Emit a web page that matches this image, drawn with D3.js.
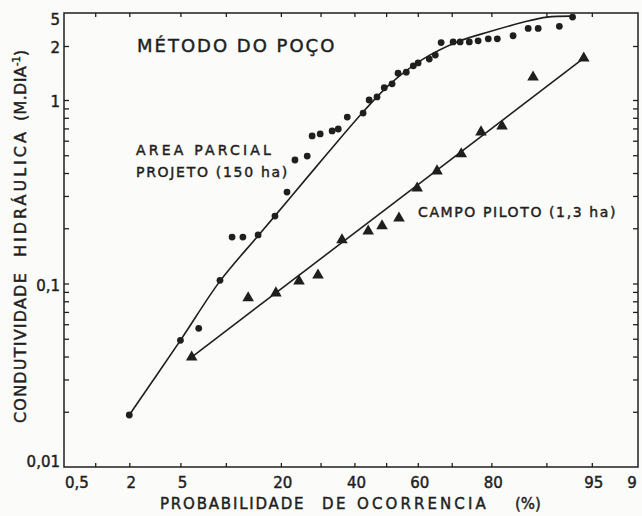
<!DOCTYPE html>
<html><head><meta charset="utf-8">
<script src="https://cdn.jsdelivr.net/npm/d3@7"></script>
<style>html,body{margin:0;padding:0;background:#fbfbf9;}svg{display:block;}</style>
</head><body><svg id="c" width="642" height="516"></svg>
<script>
// ---- data ----
const areaP = [2.0, 5.0, 6.7, 9.2, 10.9, 12.6, 15.3, 18.7, 21.4, 23.3, 26.4, 27.7, 29.9, 33.3, 35.1, 37.8, 42.7, 44.6, 47.1, 49.4, 51.9, 53.8, 56.4, 58.6, 60.1, 63.5, 65.3, 67.0, 70.4, 72.3, 74.7, 76.9, 79.3, 81.3, 84.5, 87.2, 88.8, 91.7, 93.2];
const areaK = [0.0192, 0.049, 0.057, 0.104, 0.179, 0.179, 0.184, 0.233, 0.315, 0.471, 0.495, 0.637, 0.653, 0.678, 0.695, 0.807, 0.849, 1.0, 1.04, 1.17, 1.23, 1.41, 1.43, 1.55, 1.61, 1.69, 1.78, 2.2, 2.24, 2.24, 2.24, 2.31, 2.44, 2.44, 2.66, 3.26, 3.26, 3.45, 4.46];
const pilotoP = [6.0, 13.5, 18.9, 24.3, 29.3, 36.2, 44.3, 48.7, 54.1, 59.8, 65.8, 72.6, 77.6, 82.3, 88.0, 94.3];
const pilotoK = [0.0397, 0.0834, 0.0887, 0.103, 0.111, 0.173, 0.193, 0.206, 0.227, 0.331, 0.410, 0.508, 0.669, 0.721, 1.34, 1.71];
const areaFitP = [2.0, 5.0, 9.2, 15.3, 22.1, 31.8, 42.7, 51.3, 61.6, 71.5, 79.7, 86.3, 90.1, 93.2];
const areaFitK = [0.0192, 0.049, 0.103, 0.182, 0.292, 0.508, 0.861, 1.23, 1.69, 2.24, 2.99, 3.86, 4.46, 4.59];
const pilotoFitP = [6.0, 94.3];
const pilotoFitK = [0.0397, 1.71];
const xTicks = [1, 2, 5, 10, 20, 30, 40, 50, 60, 70, 80, 90, 95];
const xLabelVals = [0.5, 2, 5, 20, 40, 60, 80, 95, 99];
const xLabels = ["0,5", "2", "5", "20", "40", "60", "80", "95", "9"];
const yTicks = [0.02,0.03,0.04,0.05,0.06,0.07,0.08,0.09,0.1,0.2,0.3,0.4,0.5,0.6,0.7,0.8,0.9,1,2];
const yLabelVals = [0.01, 0.1, 1, 2, 5];
const yLabels = ["0,01", "0,1", "1", "2", "5"];

// ---- probability transform (inverse normal CDF) ----
function probit(p){
 const a=[-3.969683028665376e+01,2.209460984245205e+02,-2.759285104469687e+02,1.383577518672690e+02,-3.066479806614716e+01,2.506628277459239e+00];
 const b=[-5.447609879822406e+01,1.615858368580409e+02,-1.556989798598866e+02,6.680131188771972e+01,-1.328068155288572e+01];
 const c=[-7.784894002430293e-03,-3.223964580411365e-01,-2.400758277161838e+00,-2.549732539343734e+00,4.374664141464968e+00,2.938163982698783e+00];
 const d=[7.784695709041462e-03,3.224671290700398e-01,2.445134137142996e+00,3.754408661907416e+00];
 const pl=0.02425, ph=1-pl; let q,r;
 if(p<pl){q=Math.sqrt(-2*Math.log(p));return (((((c[0]*q+c[1])*q+c[2])*q+c[3])*q+c[4])*q+c[5])/((((d[0]*q+d[1])*q+d[2])*q+d[3])*q+1);}
 if(p<=ph){q=p-0.5;r=q*q;return (((((a[0]*r+a[1])*r+a[2])*r+a[3])*r+a[4])*r+a[5])*q/(((((b[0]*r+b[1])*r+b[2])*r+b[3])*r+b[4])*r+1);}
 q=Math.sqrt(-2*Math.log(1-p));return -(((((c[0]*q+c[1])*q+c[2])*q+c[3])*q+c[4])*q+c[5])/((((d[0]*q+d[1])*q+d[2])*q+d[3])*q+1);
}

const INK = "#1f1f1f";
const FONT = "'DejaVu Sans', sans-serif";
const L = 64, R = 638, T = 13, B = 467;
const xz = d3.scaleLinear().domain([probit(0.005), probit(0.978)]).range([L, R]);
const x = p => xz(probit(p / 100));
const y = d3.scaleLog().domain([0.01, 1, 2, 5]).range([B, 100, 46, T]);

const svg = d3.select("#c");
svg.append("rect").attr("width", 642).attr("height", 516).attr("fill", "#fbfbf9");

function txt(sel){ return sel.attr("font-family", FONT).attr("fill", INK).attr("stroke", INK).attr("stroke-width", 0.45); }

// axes (ticks inward)
const zt = xTicks.map(p => probit(p / 100));
function styleAxis(g){ g.select(".domain").remove(); g.selectAll("line").attr("stroke", INK).attr("stroke-width", 1.3); g.selectAll("text").remove(); }
svg.append("g").attr("transform", `translate(0,${B})`).call(d3.axisBottom(xz).tickValues(zt).tickSize(-4).tickFormat("")).call(styleAxis);
svg.append("g").attr("transform", `translate(0,${T})`).call(d3.axisTop(xz).tickValues(zt).tickSize(-4).tickFormat("")).call(styleAxis);
svg.append("g").attr("transform", `translate(${L},0)`).call(d3.axisLeft(y).tickValues(yTicks).tickSize(-5).tickFormat("")).call(styleAxis);
svg.append("g").attr("transform", `translate(${R},0)`).call(d3.axisRight(y).tickValues(yTicks).tickSize(-5).tickFormat("")).call(styleAxis);

// frame
svg.append("rect").attr("x", L).attr("y", T).attr("width", R - L).attr("height", B - T)
  .attr("fill", "none").attr("stroke", INK).attr("stroke-width", 1.5);

// tick labels
svg.append("g").selectAll("text").data(xLabelVals).join("text")
  .attr("x", v => Math.max(77, Math.min(632, x(v) + 2)))
  .attr("y", 488).attr("text-anchor", "middle").attr("font-size", 15)
  .call(txt).text((v, i) => xLabels[i]);
svg.append("g").selectAll("text").data(yLabelVals).join("text")
  .attr("x", 60).attr("y", v => Math.min(462, Math.max(20, y(v) + 2)))
  .attr("dy", "0.36em").attr("text-anchor", "end").attr("font-size", 15)
  .call(txt).text((v, i) => yLabels[i]);

// axis titles
const xt = svg.append("text").attr("y", 509).attr("font-size", 15).call(txt);
[["PROBABILIDADE ",160,1.8],["DE ",322,2.5],["OCORRENCIA ",357,3.1],["(%)",515,0]].forEach(([s,px,ls]) => {
  xt.append("tspan").attr("x", px).attr("letter-spacing", ls).text(s);
});
const yt = svg.append("text").attr("transform", "translate(26,0) rotate(-90)").attr("font-size", 16).call(txt);
yt.append("tspan").attr("x", -423).attr("letter-spacing", 1.2).text("CONDUTIVIDADE ");
yt.append("tspan").attr("x", -257).attr("letter-spacing", 3.0).text("HIDRÁULICA ");
yt.append("tspan").attr("x", -121).attr("letter-spacing", 0.3).text("(M.DIA");
yt.append("tspan").attr("dy", -6).attr("font-size", 10).attr("letter-spacing", 0).text("-1");
yt.append("tspan").attr("dy", 6).text(")");

// annotations
function ann(s, px, py, fs, ls){
  svg.append("text").attr("x", px).attr("y", py).attr("font-size", fs)
    .attr("letter-spacing", ls).call(txt).text(s);
}
ann("MÉTODO DO POÇO", 137, 52, 18, 2.0);
ann("AREA PARCIAL", 136, 155, 14, 3.2);
ann("PROJETO (150 ha)", 136, 177, 14, 1.7);
ann("CAMPO PILOTO (1,3 ha)", 418, 217, 14, 1.6);

// fitted lines
svg.append("path").datum(areaFitP.map((p, i) => [p, areaFitK[i]]))
  .attr("d", d3.line().x(d => x(d[0])).y(d => y(d[1])).curve(d3.curveCatmullRom.alpha(0.5)))
  .attr("fill", "none").attr("stroke", INK).attr("stroke-width", 1.6);
svg.append("path").datum(pilotoFitP.map((p, i) => [p, pilotoFitK[i]]))
  .attr("d", d3.line().x(d => x(d[0])).y(d => y(d[1]))).attr("fill", "none").attr("stroke", INK).attr("stroke-width", 1.6);

// points
svg.append("g").selectAll("circle").data(areaP.map((p, i) => [p, areaK[i]])).join("circle")
  .attr("cx", d => x(d[0])).attr("cy", d => y(d[1])).attr("r", 3.4).attr("fill", INK);
const tri = d3.symbol().type(d3.symbolTriangle).size(58);
svg.append("g").selectAll("path").data(pilotoP.map((p, i) => [p, pilotoK[i]])).join("path")
  .attr("transform", d => `translate(${x(d[0])},${y(d[1])})`).attr("d", tri).attr("fill", INK);
</script></body></html>
